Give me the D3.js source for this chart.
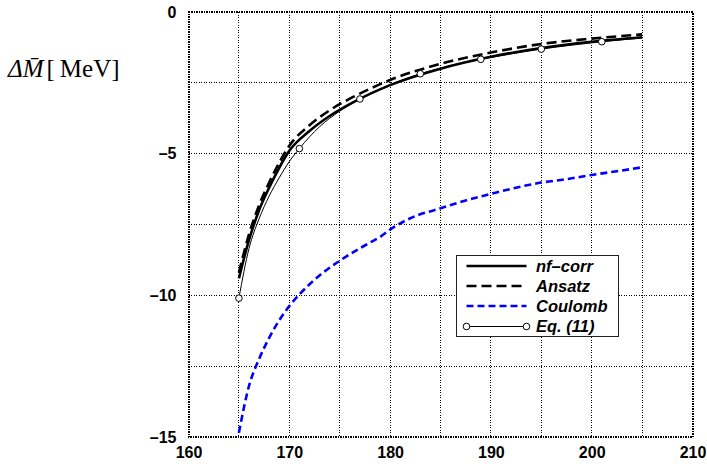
<!DOCTYPE html>
<html>
<head>
<meta charset="utf-8">
<script src="https://cdn.jsdelivr.net/npm/d3@7"></script>
<style>
  html, body { margin: 0; padding: 0; background: #fff; }
  svg { display: block; }
</style>
</head>
<body>
<div id="chart"></div>
<script>
// ---- data ----
const xTicks = [160, 170, 180, 190, 200, 210];
const yTicks = [0, -5, -10, -15];
const xGrid = [165, 170, 175, 180, 185, 190, 195, 200, 205];
const yGrid = [-2.5, -5, -7.5, -10, -12.5];

const nfX = [165, 166, 167, 168, 169, 170, 172, 174, 176, 178, 180, 185, 190, 195, 200, 205];
const nfY = [-9.40, -8.05, -7.00, -6.20, -5.50, -4.90, -4.20, -3.67, -3.25, -2.89, -2.58, -2.00, -1.58, -1.27, -1.05, -0.89];

const ansX = [165, 166, 167, 168, 169, 170, 172, 174, 176, 178, 180, 185, 190, 195, 200, 205];
const ansY = [-9.20, -7.85, -6.82, -6.02, -5.32, -4.72, -4.00, -3.47, -3.06, -2.71, -2.40, -1.83, -1.43, -1.13, -0.94, -0.79];

const coulX = [165, 166, 167, 168, 169, 170, 171, 173, 175, 177, 178, 179, 180, 182, 185, 187.5, 190, 192.5, 195, 197.5, 200, 202.5, 205];
const coulY = [-14.85, -13.20, -12.25, -11.50, -10.88, -10.38, -9.97, -9.30, -8.78, -8.34, -8.14, -7.94, -7.68, -7.28, -6.93, -6.65, -6.42, -6.20, -6.02, -5.90, -5.75, -5.62, -5.48];

const eqX = [165, 166, 167, 168, 169, 170, 171, 173, 175, 177, 179, 181, 183, 186, 189, 192, 195, 198, 201, 205];
const eqY = [-10.10, -8.35, -7.30, -6.50, -5.85, -5.28, -4.82, -4.05, -3.50, -3.07, -2.72, -2.43, -2.18, -1.90, -1.67, -1.48, -1.31, -1.17, -1.05, -0.92];
const eqMarkX = [165, 171, 177, 183, 189, 195, 201];

const legendLabels = ["nf\u2013corr", "Ansatz", "Coulomb", "Eq. (11)"];

// ---- layout ----
const W = 707, H = 464;
const L = 188.5, R = 692.5, T = 12, B = 437;

const svg = d3.select("#chart").append("svg").attr("width", W).attr("height", H);

const x = d3.scaleLinear().domain([160, 210]).range([L, R]);
const y = d3.scaleLinear().domain([-15, 0]).range([B, T]);

// grid
const grid = svg.append("g").attr("shape-rendering", "crispEdges");
grid.selectAll("line.vx").data(xGrid).enter().append("line")
  .attr("x1", d => x(d)).attr("x2", d => x(d)).attr("y1", T).attr("y2", B)
  .attr("stroke", "#000").attr("stroke-width", 1).attr("stroke-dasharray", "1,1.5");
grid.selectAll("line.hy").data(yGrid).enter().append("line")
  .attr("y1", d => y(d)).attr("y2", d => y(d)).attr("x1", L).attr("x2", R)
  .attr("stroke", "#000").attr("stroke-width", 1).attr("stroke-dasharray", "1,1.5");

// frame
svg.append("rect").attr("x", L).attr("y", T).attr("width", R - L).attr("height", B - T)
  .attr("fill", "none").attr("stroke", "#000").attr("stroke-width", 2).attr("stroke-dasharray", "1.5,1")
  .attr("shape-rendering", "crispEdges");

// axes tick labels via d3 axes
const xAxis = d3.axisBottom(x).tickValues(xTicks).tickSize(0).tickPadding(10).tickFormat(d3.format("d"));
const gx = svg.append("g").attr("transform", `translate(0,${B})`).call(xAxis);
gx.select(".domain").remove();
gx.selectAll("text").attr("font-family", "Liberation Sans, Arial, sans-serif")
  .attr("font-weight", "bold").attr("font-size", 16).attr("fill", "#000");

const yAxis = d3.axisLeft(y).tickValues(yTicks).tickSize(0).tickPadding(12)
  .tickFormat(d => d < 0 ? "\u2013" + Math.abs(d) : String(d));
const gy = svg.append("g").attr("transform", `translate(${L},0)`).call(yAxis);
gy.select(".domain").remove();
gy.selectAll("text").attr("font-family", "Liberation Sans, Arial, sans-serif")
  .attr("font-weight", "bold").attr("font-size", 16).attr("fill", "#000");

// clip
svg.append("clipPath").attr("id", "clip").append("rect")
  .attr("x", L).attr("y", T).attr("width", R - L).attr("height", B - T);

const plot = svg.append("g").attr("clip-path", "url(#clip)");
const line = d3.line().x(d => x(d[0])).y(d => y(d[1])).curve(d3.curveMonotoneX);

const zip = (a, b) => a.map((v, i) => [v, b[i]]);

plot.append("path").datum(zip(coulX, coulY)).attr("d", line)
  .attr("fill", "none").attr("stroke", "#0000ff").attr("stroke-width", 2.6).attr("stroke-dasharray", "7,4");

plot.append("path").datum(zip(eqX, eqY)).attr("d", line)
  .attr("fill", "none").attr("stroke", "#000").attr("stroke-width", 1);

plot.append("path").datum(zip(nfX, nfY)).attr("d", line)
  .attr("fill", "none").attr("stroke", "#000").attr("stroke-width", 2.6);

plot.append("path").datum(zip(ansX, ansY)).attr("d", line)
  .attr("fill", "none").attr("stroke", "#000").attr("stroke-width", 2.6).attr("stroke-dasharray", "10,5");

const eqMarks = eqMarkX.map(v => [v, eqY[eqX.indexOf(v)]]);
plot.selectAll("circle.eq").data(eqMarks).enter().append("circle")
  .attr("cx", d => x(d[0])).attr("cy", d => y(d[1])).attr("r", 3.3)
  .attr("fill", "#fff").attr("stroke", "#000").attr("stroke-width", 1);

// legend
const lg = svg.append("g");
const lx = 456.5, ly = 255.5, lw = 162, lh = 81;
lg.append("rect").attr("x", lx).attr("y", ly).attr("width", lw).attr("height", lh)
  .attr("fill", "#fff").attr("stroke", "#222").attr("stroke-width", 1);
const rowY = [266, 286, 306, 326.5];
const styles = [
  {stroke: "#000", w: 2.6, dash: null},
  {stroke: "#000", w: 2.6, dash: "10,5"},
  {stroke: "#0000ff", w: 2.6, dash: "7,4"},
  {stroke: "#000", w: 1, dash: null}
];
legendLabels.forEach((lab, i) => {
  const s = styles[i];
  const ln = lg.append("line").attr("x1", 466.5).attr("x2", 526.5).attr("y1", rowY[i]).attr("y2", rowY[i])
    .attr("stroke", s.stroke).attr("stroke-width", s.w);
  if (s.dash) ln.attr("stroke-dasharray", s.dash);
  if (i === 3) {
    [466.5, 526.5].forEach(cx => lg.append("circle").attr("cx", cx).attr("cy", rowY[i]).attr("r", 3.3)
      .attr("fill", "#fff").attr("stroke", "#000").attr("stroke-width", 1));
  }
  lg.append("text").attr("x", 536).attr("y", rowY[i]).attr("dy", "0.36em")
    .attr("font-family", "Liberation Sans, Arial, sans-serif").attr("font-weight", "bold")
    .attr("font-style", "italic").attr("font-size", 16.5).attr("fill", "#000").text(lab);
});

// y label
const yl = svg.append("text").attr("x", 8).attr("y", 77)
  .attr("font-family", "Liberation Serif, Times New Roman, serif").attr("font-size", 25).attr("fill", "#000");
yl.append("tspan").attr("font-style", "italic").text("\u0394");
yl.append("tspan").attr("font-style", "italic").text("M\u0304");
yl.append("tspan").attr("dx", 3).text("[\u2009MeV]");
</script>
</body>
</html>
